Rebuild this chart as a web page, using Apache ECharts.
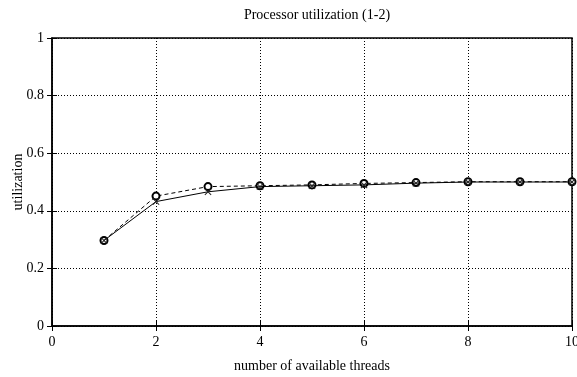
<!DOCTYPE html>
<html>
<head>
<meta charset="utf-8">
<script src="https://cdn.jsdelivr.net/npm/echarts@6/dist/echarts.min.js"></script>
<style>html,body{margin:0;padding:0;background:#fff}#c{width:577px;height:377px}</style>
</head>
<body>
<div id="c"></div>
<script>
const threads = [1, 2, 3, 4, 5, 6, 7, 8, 9, 10];
const utilSolid = [0.297, 0.432, 0.466, 0.484, 0.487, 0.49, 0.496, 0.5, 0.5, 0.5];
const utilDashed = [0.297, 0.451, 0.484, 0.487, 0.49, 0.495, 0.498, 0.501, 0.501, 0.501];
const xTicks = [0, 2, 4, 6, 8, 10];
const yTicks = [0, 0.2, 0.4, 0.6, 0.8, 1];

const font = 'Liberation Serif';
const crossPath = 'path://M0,1L1,0L5,4L9,0L10,1L6,5L10,9L9,10L5,6L1,10L0,9L4,5Z';

const chart = echarts.init(document.getElementById('c'), null, {renderer: 'canvas'});
chart.setOption({
  animation: false,
  backgroundColor: '#fff',
  title: {
    text: 'Processor utilization (1-2)',
    left: 312, textAlign: 'center', top: 3,
    textStyle: {fontFamily: font, fontSize: 14, fontWeight: 'normal', color: '#000'}
  },
  grid: {left: 52, right: 5, top: 38, bottom: 51, outerBoundsMode: 'none', containLabel: false,
    show: true, borderColor: '#000', borderWidth: 1.5, backgroundColor: 'transparent'},
  xAxis: [{
    type: 'value', min: xTicks[0], max: xTicks[xTicks.length - 1], interval: 2,
    name: 'number of available threads', nameLocation: 'middle', nameGap: 33,
    nameTextStyle: {fontFamily: font, fontSize: 14, color: '#000'},
    axisLine: {show: true, lineStyle: {color: '#000', width: 1.5}},
    axisTick: {show: true, inside: true, length: 5, lineStyle: {color: '#000'}},
    axisLabel: {fontFamily: font, fontSize: 14, color: '#000', margin: 9, showMaxLabel: true, showMinLabel: true},
    splitLine: {show: true, lineStyle: {color: '#000', type: [1, 2], width: 1}}
  }, {
    type: 'value', position: 'top', min: 0, max: 10, interval: 2,
    axisLine: {show: false}, axisTick: {show: true, inside: true, length: 5, lineStyle: {color: '#000'}},
    axisLabel: {show: false}, splitLine: {show: false}
  }],
  yAxis: [{
    type: 'value', min: yTicks[0], max: yTicks[yTicks.length - 1], interval: 0.2,
    name: 'utilization', nameLocation: 'middle', nameGap: 27, nameRotate: 90, nameMoveOverlap: false,
    nameTextStyle: {fontFamily: font, fontSize: 14, color: '#000'},
    axisLine: {show: true, lineStyle: {color: '#000', width: 1.5}},
    axisTick: {show: true, inside: true, length: 5, lineStyle: {color: '#000'}},
    axisLabel: {fontFamily: font, fontSize: 14, color: '#000', margin: 8},
    splitLine: {show: true, lineStyle: {color: '#000', type: [1, 2], width: 1}}
  }, {
    type: 'value', position: 'right', min: 0, max: 1, interval: 0.2,
    axisLine: {show: false}, axisTick: {show: true, inside: true, length: 5, lineStyle: {color: '#000'}},
    axisLabel: {show: false}, splitLine: {show: false}
  }],
  series: [{
    type: 'line',
    data: threads.map((t, i) => [t, utilDashed[i]]),
    symbol: 'emptyCircle', symbolSize: 7,
    lineStyle: {color: '#000', width: 1, type: [4, 3]},
    itemStyle: {color: '#000', borderColor: '#222', borderWidth: 0.8},
    z: 3
  }, {
    type: 'line',
    data: threads.map((t, i) => [t, utilSolid[i]]),
    symbol: crossPath, symbolSize: 7,
    lineStyle: {color: '#000', width: 1},
    itemStyle: {color: '#222'},
    z: 4
  }]
});
</script>
</body>
</html>
